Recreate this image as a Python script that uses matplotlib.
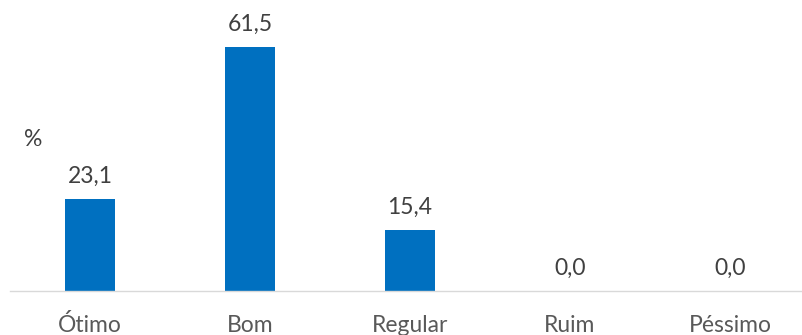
import matplotlib
matplotlib.use("Agg")
import matplotlib.pyplot as plt

categories = ["Ótimo", "Bom", "Regular", "Ruim", "Péssimo"]
values = [23.1, 61.5, 15.4, 0.0, 0.0]
value_labels = ["23,1", "61,5", "15,4", "0,0", "0,0"]

plt.rcParams['font.family'] = ['Lato', 'DejaVu Sans']

W, H = 803, 335
fig = plt.figure(figsize=(W / 100, H / 100), dpi=100)
left = 10 / W
right = 810 / W
bottom = (H - 291) / H
top = (H - 13) / H
ax = fig.add_axes([left, bottom, right - left, top - bottom])
ax.set_xlim(-0.5, 4.5)
ax.set_ylim(0, 70)

x = list(range(len(categories)))
ax.bar(x, values, width=0.31, color="#0070C0", zorder=2)

for xi, v, lab in zip(x, values, value_labels):
    ax.annotate(lab, (xi, v), xytext=(0, 11.5), textcoords="offset points",
                ha="center", va="baseline", fontsize=16.5, color="#404040")

ax.set_xticks(x)
ax.set_xticklabels(categories, fontsize=16.5, color="#595959")
for t in ax.get_xticklabels():
    t.set_verticalalignment("baseline")
ax.tick_params(axis="x", length=0, pad=29.5)
ax.set_yticks([])
for s in ["top", "left", "right"]:
    ax.spines[s].set_visible(False)
ax.spines["bottom"].set_color("#D9D9D9")
ax.spines["bottom"].set_linewidth(1.0)

fig.text(33 / W, 1 - 140 / H, "%", ha="center", va="center", fontsize=16.5, color="#404040")

fig.savefig("out.png", dpi=100)
